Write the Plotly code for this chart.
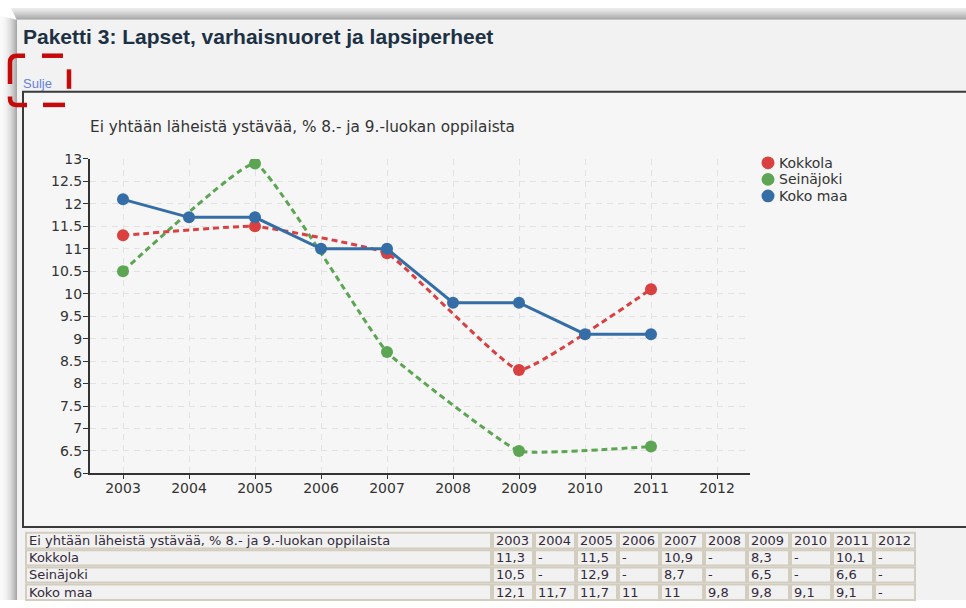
import plotly.graph_objects as go

W, H = 966, 608

years = [2003, 2004, 2005, 2006, 2007, 2008, 2009, 2010, 2011, 2012]
kokkola = [11.3, None, 11.5, None, 10.9, None, 8.3, None, 10.1, None]
seinajoki = [10.5, None, 12.9, None, 8.7, None, 6.5, None, 6.6, None]
koko_maa = [12.1, 11.7, 11.7, 11, 11, 9.8, 9.8, 9.1, 9.1, None]
series_names = ["Kokkola", "Seinäjoki", "Koko maa"]

page_title = "Paketti 3: Lapset, varhaisnuoret ja lapsiperheet"
chart_title = "Ei yhtään läheistä ystävää, % 8.- ja 9.-luokan oppilaista"
close_label = "Sulje"

table_header = [chart_title] + [str(y) for y in years]
table_rows = [
    ["Kokkola", "11,3", "-", "11,5", "-", "10,9", "-", "8,3", "-", "10,1", "-"],
    ["Seinäjoki", "10,5", "-", "12,9", "-", "8,7", "-", "6,5", "-", "6,6", "-"],
    ["Koko maa", "12,1", "11,7", "11,7", "11", "11", "9,8", "9,8", "9,1", "9,1", "-"],
]

RED, GREEN, BLUE = "#d9403f", "#5ca653", "#356ea6"
COLORS = [RED, GREEN, BLUE]
FONT = "DejaVu Sans"


def px(x):
    return x / W


def py(y):
    return 1 - y / H


fig = go.Figure()

fig.add_trace(go.Scatter(x=years, y=seinajoki, name=series_names[1], mode="lines+markers", connectgaps=True,
                         line=dict(color=GREEN, width=3, dash="6px,4px", shape="spline", smoothing=0.3),
                         marker=dict(color=GREEN, size=12), showlegend=False))
fig.add_trace(go.Scatter(x=years, y=kokkola, name=series_names[0], mode="lines+markers", connectgaps=True,
                         line=dict(color=RED, width=3, dash="6px,4px", shape="spline", smoothing=0.3),
                         marker=dict(color=RED, size=12), showlegend=False))
fig.add_trace(go.Scatter(x=years, y=koko_maa, name=series_names[2], mode="lines+markers", connectgaps=True,
                         line=dict(color=BLUE, width=3),
                         marker=dict(color=BLUE, size=12), showlegend=False))

shapes = []
# page shadow
for i in range(12):
    a = 0.08 + 0.30 * (i / 11) ** 1.3
    shapes.append(dict(type="rect", xref="paper", yref="paper", x0=px(11 + i * 0.5), x1=px(W),
                       y0=py(i), y1=py(i + 1), line_width=0, fillcolor=f"rgba(0,0,0,{a:.3f})", layer="below"))
for i in range(17):
    a = 0.02 + 0.32 * (i / 16) ** 2
    shapes.append(dict(type="rect", xref="paper", yref="paper", x0=px(i), x1=px(i + 1),
                       y0=py(8 + i * 0.25), y1=py(H), line_width=0, fillcolor=f"rgba(0,0,0,{a:.3f})", layer="below"))
# panel
shapes.append(dict(type="rect", xref="paper", yref="paper", x0=px(17), x1=px(W), y0=py(12), y1=py(H),
                   line_width=0, fillcolor="#f2f2f2", layer="below"))
# chart box
shapes.append(dict(type="rect", xref="paper", yref="paper", x0=px(23), x1=px(W + 5), y0=py(86), y1=py(533),
                   line=dict(color="#3a3a3a", width=2), fillcolor="#f6f6f6", layer="below"))

# red dashed corners (individual dashes)
RC = "#c40a0a"


def P(x, y):
    return f"{px(x):.5f},{py(y):.5f}"


def seg(path):
    return dict(type="path", xref="paper", yref="paper", path=path, line=dict(color=RC, width=4.5))


shapes.append(seg(f"M{P(10,78)} L{P(10,56)} Q{P(10,49)} {P(17,49)} L{P(25,49)}"))
shapes.append(seg(f"M{P(42,49)} L{P(63,49)}"))
shapes.append(seg(f"M{P(69,63)} L{P(69,83)}"))
shapes.append(seg(f"M{P(43,99.5)} L{P(65,99.5)}"))
shapes.append(seg(f"M{P(27,99.5)} L{P(16,99.5)} Q{P(10,99.5)} {P(10,93)} L{P(10,91)}"))

# custom legend
legend_y = [159, 176, 193]
annotations = []
for nm, col, ly in zip(series_names, COLORS, legend_y):
    shapes.append(dict(type="circle", xref="paper", yref="paper", x0=px(761.5), x1=px(774.5),
                       y0=py(ly - 6.5), y1=py(ly + 6.5), line_width=0, fillcolor=col))
    annotations.append(dict(text=nm, xref="paper", yref="paper", x=px(777), y=py(ly),
                            xanchor="left", yanchor="middle", showarrow=False,
                            font=dict(family=FONT, size=14, color="#333333")))

# table cells
col_edges = [25, 492, 534, 576, 618, 660, 704, 747, 790, 832, 874, 916]
row_edges = [538, 556, 573.5, 591, 609]
all_rows = [table_header] + table_rows
for r, row in enumerate(all_rows):
    for c, val in enumerate(row):
        x0, x1 = col_edges[c], col_edges[c + 1]
        y0, y1 = row_edges[r], row_edges[r + 1]
        shapes.append(dict(type="rect", xref="paper", yref="paper", x0=px(x0 + 1), x1=px(x1 - 1),
                           y0=py(y0 + 1), y1=py(y1 - 1), line=dict(color="#d2cdbf", width=2),
                           fillcolor="#f1f1f1", layer="below"))
        annotations.append(dict(text=val, xref="paper", yref="paper", x=px(x0 + 1.5), y=py((y0 + y1) / 2),
                                xanchor="left", yanchor="middle", showarrow=False,
                                font=dict(family=FONT, size=13, color="#352a3a")))

annotations.append(dict(text=f"<b>{page_title}</b>", xref="paper", yref="paper", x=px(21), y=py(29),
                        xanchor="left", yanchor="middle", showarrow=False,
                        font=dict(family="Liberation Sans", size=21, color="#1d3145")))
annotations.append(dict(text=close_label, xref="paper", yref="paper", x=px(21), y=py(78),
                        xanchor="left", yanchor="middle", showarrow=False,
                        font=dict(family="Liberation Sans", size=13, color="#6680e0")))
annotations.append(dict(text=chart_title, xref="paper", yref="paper", x=px(88), y=py(122),
                        xanchor="left", yanchor="middle", showarrow=False,
                        font=dict(family=FONT, size=15.3, color="#333333")))

fig.update_layout(
    width=W, height=H, margin=dict(l=0, r=0, t=0, b=0),
    paper_bgcolor="#ffffff", plot_bgcolor="rgba(0,0,0,0)",
    shapes=shapes, annotations=annotations,
    xaxis=dict(domain=[px(90), px(750)], range=[2002.5, 2012.5], tickvals=years,
               showgrid=True, gridcolor="#e2e2e2", griddash="6px,5px", gridwidth=1,
               showline=True, linecolor="#333333", linewidth=2, ticks="outside", ticklen=4,
               tickcolor="#333333", zeroline=False, ticklabelstandoff=-3,
               tickfont=dict(family=FONT, size=14, color="#333333")),
    yaxis=dict(domain=[py(478), py(155)], range=[6, 13], dtick=0.5, tick0=6,
               showgrid=True, gridcolor="#e2e2e2", griddash="6px,5px", gridwidth=1,
               showline=True, linecolor="#333333", linewidth=2, ticks="outside", ticklen=5,
               tickcolor="#333333", zeroline=False, ticklabelstandoff=-2,
               tickfont=dict(family=FONT, size=14, color="#333333")),
    showlegend=False,
)

post = ("document.documentElement.style.margin='0';document.body.style.margin='0';"
        "document.documentElement.style.overflow='hidden';document.body.style.overflow='hidden';"
        "var d=document.getElementById('{plot_id}');d.style.position='fixed';d.style.top='0px';d.style.left='0px';")
fig.write_html("out.html", config={"displayModeBar": False}, post_script=post)
